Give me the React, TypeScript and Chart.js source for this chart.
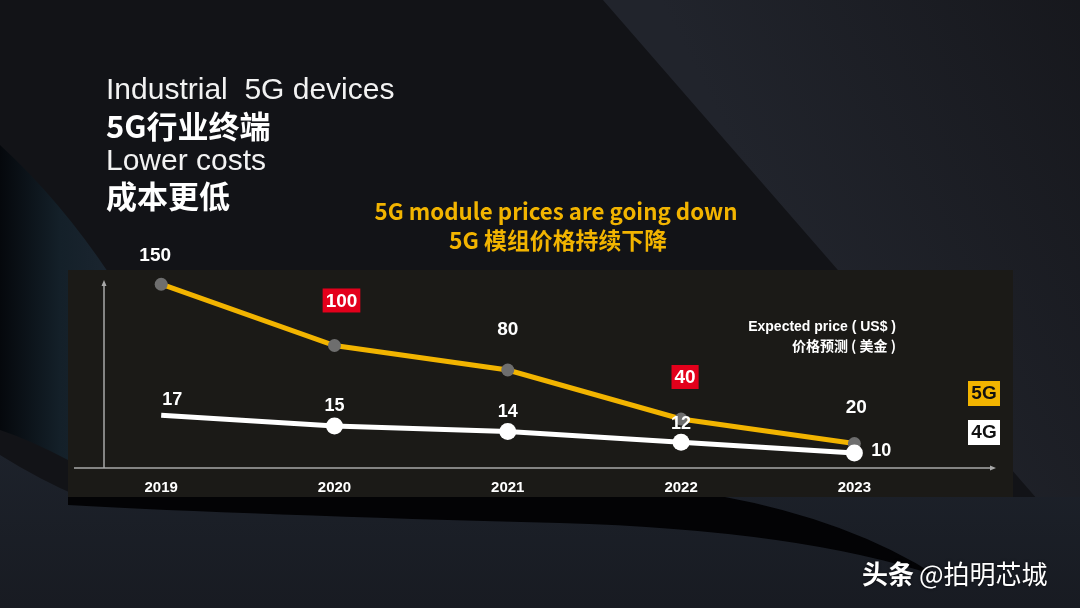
import React, { useEffect, useRef } from "react";
import { Chart, registerables } from "chart.js";

Chart.register(...registerables);

// ---- data ----
const years = [2019, 2020, 2021, 2022, 2023];
const price5G = [150, 100, 80, 40, 20];
const price4G = [17, 15, 14, 12, 10];
const highlighted5G = [false, true, false, true, false];
const marker4G = [false, true, true, true, true];

// label placement relative to each point (px)
const label5GOffsets = [[-6, -29], [7, -45], [0, -41], [4, -42], [2, -37]];
const label4GOffsets = [[11, -15], [0, -20], [0, -19], [0, -18], [27, -2]];

const titleEn1 = "Industrial  5G devices";
const titleZh1 = "5G行业终端";
const titleEn2 = "Lower costs";
const titleZh2 = "成本更低";
const subtitleEn = "5G module prices are going down";
const subtitleZh = "5G 模组价格持续下降";
const unitEn = "Expected price ( US$ )";
const unitZh = "价格预测 ( 美金 )";
const legendLabels = ["5G", "4G"];
const watermarkBold = "头条";
const watermarkRest = "@拍明芯城";

const SANS = '"Liberation Sans", Arial, Helvetica, sans-serif';
const CJK = '"Noto Sans CJK SC", "Liberation Sans", sans-serif';
const YELLOW = "#f2b400";
const RED = "#e3001b";

function txt(
  ctx: CanvasRenderingContext2D,
  s: string,
  x: number,
  y: number,
  font: string,
  color: string,
  align: CanvasTextAlign = "left",
  maxWidth?: number
) {
  ctx.save();
  ctx.font = font;
  ctx.fillStyle = color;
  ctx.textAlign = align;
  ctx.textBaseline = "middle";
  if (maxWidth) ctx.fillText(s, x, y, maxWidth);
  else ctx.fillText(s, x, y);
  ctx.restore();
}

const decorPlugin = {
  id: "decor",
  beforeDraw(chart: any) {
    const ctx: CanvasRenderingContext2D = chart.ctx;
    const W = chart.width;
    const H = chart.height;
    ctx.save();
    // base
    ctx.fillStyle = "#121317";
    ctx.fillRect(0, 0, W, H);

    // top-right lighter band
    let g = ctx.createLinearGradient(720, 120, 1080, -60);
    g.addColorStop(0, "#21242c");
    g.addColorStop(1, "#16171c");
    ctx.fillStyle = g;
    ctx.beginPath();
    ctx.moveTo(603, 0);
    ctx.lineTo(W, 0);
    ctx.lineTo(W, 600);
    ctx.lineTo(603 + 600 * 0.87, 600);
    ctx.closePath();
    ctx.fill();

    // bottom region
    g = ctx.createLinearGradient(0, 450, 0, H);
    g.addColorStop(0, "#1d222b");
    g.addColorStop(1, "#181b22");
    ctx.fillStyle = g;
    ctx.beginPath();
    ctx.moveTo(0, 455);
    ctx.quadraticCurveTo(40, 480, 80, 497);
    ctx.lineTo(W, 497);
    ctx.lineTo(W, H);
    ctx.lineTo(0, H);
    ctx.closePath();
    ctx.fill();

    // left wedge (bluish)
    g = ctx.createLinearGradient(0, 0, 120, 0);
    g.addColorStop(0, "#05080c");
    g.addColorStop(0.5, "#142029");
    g.addColorStop(1, "#1c2631");
    ctx.fillStyle = g;
    ctx.beginPath();
    ctx.moveTo(0, 145);
    ctx.quadraticCurveTo(60, 200, 110, 275);
    ctx.lineTo(68, 460);
    ctx.quadraticCurveTo(30, 440, 0, 430);
    ctx.closePath();
    ctx.fill();

    // black swoosh below the panel
    ctx.fillStyle = "#030305";
    ctx.beginPath();
    ctx.moveTo(68, 496);
    ctx.lineTo(720, 496);
    ctx.quadraticCurveTo(850, 520, 937, 576);
    ctx.quadraticCurveTo(800, 530, 560, 523);
    ctx.quadraticCurveTo(250, 515, 68, 505);
    ctx.closePath();
    ctx.fill();

    // chart panel
    ctx.fillStyle = "#1b1a17";
    ctx.fillRect(68, 270, 945, 227);
    ctx.restore();

    // titles
    txt(ctx, titleEn1, 106, 91, `30px ${SANS}`, "#f2f2f2");
    txt(ctx, titleZh1, 106, 126, `bold 31px ${CJK}`, "#ffffff", "left", 167);
    txt(ctx, titleEn2, 106, 162, `30px ${SANS}`, "#f2f2f2");
    txt(ctx, titleZh2, 106, 196, `bold 31px ${CJK}`, "#ffffff", "left", 126);
    txt(ctx, subtitleEn, 556, 211, `bold 23px ${CJK}`, YELLOW, "center", 363);
    txt(ctx, subtitleZh, 558, 240, `bold 23px ${CJK}`, YELLOW, "center", 218);

    // watermark
    ctx.save();
    ctx.shadowColor = "rgba(0,0,0,0.6)";
    ctx.shadowBlur = 3;
    txt(ctx, watermarkBold, 862, 574, `bold 26px ${CJK}`, "#ffffff", "left", 52);
    txt(ctx, watermarkRest, 919, 574, `26px ${CJK}`, "#ffffff", "left", 140);
    ctx.restore();
  },
  beforeDatasetsDraw(chart: any) {
    const ctx: CanvasRenderingContext2D = chart.ctx;
    const a = chart.chartArea;
    ctx.save();
    ctx.strokeStyle = "#a8a8a8";
    ctx.fillStyle = "#a8a8a8";
    ctx.lineWidth = 1.5;
    // y axis
    ctx.beginPath();
    ctx.moveTo(a.left, a.bottom);
    ctx.lineTo(a.left, a.top);
    ctx.stroke();
    ctx.beginPath();
    ctx.moveTo(a.left, a.top - 3);
    ctx.lineTo(a.left - 2.5, a.top + 3);
    ctx.lineTo(a.left + 2.5, a.top + 3);
    ctx.closePath();
    ctx.fill();
    // x axis
    ctx.beginPath();
    ctx.moveTo(a.left - 30, a.bottom);
    ctx.lineTo(a.right, a.bottom);
    ctx.stroke();
    ctx.beginPath();
    ctx.moveTo(a.right + 3, a.bottom);
    ctx.lineTo(a.right - 3, a.bottom - 2.5);
    ctx.lineTo(a.right - 3, a.bottom + 2.5);
    ctx.closePath();
    ctx.fill();
    ctx.restore();
  },
  afterDatasetsDraw(chart: any) {
    const ctx: CanvasRenderingContext2D = chart.ctx;
    const xs = chart.scales.x;
    const y5 = chart.scales.y;
    const y4 = chart.scales.y1;
    // 5G labels
    years.forEach((yr, i) => {
      const px = xs.getPixelForValue(yr) + label5GOffsets[i][0];
      const py = y5.getPixelForValue(price5G[i]) + label5GOffsets[i][1];
      const s = String(price5G[i]);
      ctx.save();
      ctx.font = `bold 19px ${SANS}`;
      const w = ctx.measureText(s).width;
      ctx.restore();
      if (highlighted5G[i]) {
        ctx.fillStyle = RED;
        ctx.fillRect(px - w / 2 - 3, py - 12, w + 6, 24);
      }
      txt(ctx, s, px, py + 1, `bold 19px ${SANS}`, "#ffffff", "center");
    });
    // 4G labels
    years.forEach((yr, i) => {
      const px = xs.getPixelForValue(yr) + label4GOffsets[i][0];
      const py = y4.getPixelForValue(price4G[i]) + label4GOffsets[i][1];
      txt(ctx, String(price4G[i]), px, py, `bold 18px ${SANS}`, "#ffffff", "center");
    });
    // unit text
    txt(ctx, unitEn, 896, 327, `bold 14px ${SANS}`, "#ffffff", "right", 172);
    txt(ctx, unitZh, 896, 346, `bold 14px ${CJK}`, "#ffffff", "right", 123);
    // legend boxes
    const boxes = [
      { label: legendLabels[0], fill: YELLOW, y: 381 },
      { label: legendLabels[1], fill: "#ffffff", y: 420 },
    ];
    boxes.forEach((b) => {
      ctx.fillStyle = b.fill;
      ctx.fillRect(968, b.y, 32, 25);
      txt(ctx, b.label, 984, b.y + 13, `bold 19px ${SANS}`, "#111111", "center", 30);
    });
  },
};

export default function App() {
  const ref = useRef<HTMLCanvasElement | null>(null);
  useEffect(() => {
    if (!ref.current) return;
    const chart = new Chart(ref.current, {
      type: "line",
      data: {
        datasets: [
          {
            label: "4G",
            data: years.map((x, i) => ({ x, y: price4G[i] })),
            yAxisID: "y1",
            borderColor: "#ffffff",
            borderWidth: 5,
            backgroundColor: "#ffffff",
            pointBackgroundColor: "#ffffff",
            pointBorderWidth: 0,
            pointRadius: marker4G.map((m) => (m ? 8.5 : 0)),
            tension: 0,
            clip: false,
            order: 1,
          },
          {
            label: "5G",
            data: years.map((x, i) => ({ x, y: price5G[i] })),
            yAxisID: "y",
            borderColor: YELLOW,
            borderWidth: 5,
            backgroundColor: "#6e6e6e",
            pointBackgroundColor: "#6e6e6e",
            pointBorderWidth: 0,
            pointRadius: 6.5,
            tension: 0,
            clip: false,
            order: 2,
          },
        ] as any,
      },
      options: {
        animation: false,
        responsive: false,
        events: [],
        layout: { padding: { left: 104, right: 87, top: 283, bottom: 110 } },
        plugins: { legend: { display: false }, tooltip: { enabled: false } },
        scales: {
          x: {
            type: "linear",
            min: 2018.67,
            max: 2023.8,
            grid: { display: false, drawTicks: false },
            border: { display: false },
            afterBuildTicks: (s: any) => {
              s.ticks = years.map((v) => ({ value: v }));
            },
            afterFit: (s: any) => {
              s.height = 30;
            },
            ticks: {
              color: "#ffffff",
              font: { family: SANS, size: 15, weight: "bold" },
              padding: 11,
              maxRotation: 0,
              callback: (v: any) => String(v),
            },
          },
          y: { type: "linear", display: false, min: 0, max: 151 },
          y1: { type: "linear", display: false, min: 7.2, max: 41.6 },
        },
      } as any,
      plugins: [decorPlugin],
    });
    return () => chart.destroy();
  }, []);
  return (
    <div style={{ position: "absolute", left: 0, top: 0, width: 1080, height: 608 }}>
      <canvas ref={ref} width={1080} height={608} style={{ display: "block", width: 1080, height: 608 }} />
    </div>
  );
}
